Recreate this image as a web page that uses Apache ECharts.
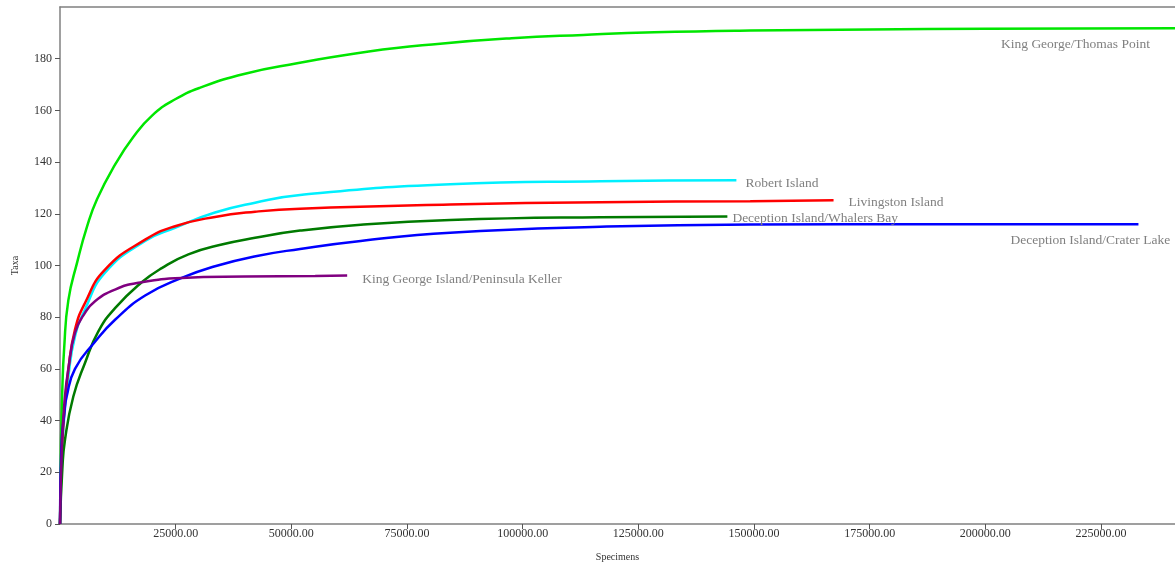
<!DOCTYPE html>
<html>
<head>
<meta charset="utf-8">
<script src="https://cdn.jsdelivr.net/npm/echarts@6/dist/echarts.min.js"></script>
<style>
  html, body { margin: 0; padding: 0; background: #fff; }
  #chart { width: 1175px; height: 567px; }
</style>
</head>
<body>
<div id="chart"></div>
<script>
// Rarefaction curves: taxa observed vs. number of specimens, per site.
const siteNames = [
  'King George/Thomas Point',
  'Robert Island',
  'Livingston Island',
  'Deception Island/Whalers Bay',
  'Deception Island/Crater Lake',
  'King George Island/Peninsula Keller'
];

const thomasPoint = [
  [0, 0], [200, 30], [500, 52], [900, 68], [1800, 86.5], [3750, 101.5], [5840, 115],
  [8000, 125.6], [11900, 139], [15800, 149.6], [19900, 158], [24900, 164.3],
  [30300, 168.8], [40000, 174.2], [51250, 178.2], [66740, 182.8], [82180, 185.8],
  [97620, 187.9], [113080, 189.2], [128460, 190.2], [149200, 190.9], [175000, 191.3],
  [200000, 191.6], [241000, 191.8]
];

const robertIsland = [
  [0, 0], [400, 27], [1000, 43], [1800, 57], [3240, 72.6], [5400, 83], [9730, 97.2],
  [18400, 109.5], [24870, 114.6], [33500, 120.5], [42170, 124.3], [51900, 127.3],
  [84340, 131.4], [116800, 132.6], [146200, 133]
];

const livingstonIsland = [
  [0, 0], [400, 28], [1000, 45], [1800, 59.7], [3240, 75.2], [5400, 85.5], [9730, 98.4],
  [18400, 110], [24870, 115.2], [33500, 118.8], [42170, 120.8], [51900, 122],
  [84340, 123.6], [116800, 124.5], [149200, 124.9], [167200, 125.2]
];

const whalersBay = [
  [0, 0], [500, 21], [1080, 32.6], [2880, 49.3], [5400, 62.3], [8290, 74.5],
  [11900, 83.5], [17660, 93.5], [22000, 99], [27750, 104.3], [34960, 108.1],
  [42170, 110.7], [51900, 113.5], [65000, 115.8], [84340, 117.6], [116800, 118.7],
  [144250, 119]
];

const craterLake = [
  [0, 0], [300, 30], [940, 43], [1440, 49.3], [3240, 60], [7570, 70.5],
  [11900, 79], [18400, 88.4], [26300, 95.2], [33500, 99.7], [42000, 103.5],
  [51900, 106.4], [65000, 109.5], [84340, 112.7], [116800, 115], [149200, 115.9],
  [190000, 116], [233100, 116]
];

const peninsulaKeller = [
  [0, 0], [400, 30], [1000, 48], [1800, 60], [3240, 73.9], [5400, 81.7], [7570, 86.2],
  [11900, 90.7], [16940, 93.3], [26300, 95.2], [40000, 95.7], [55150, 95.9],
  [62070, 96.1]
];

const seriesData = [thomasPoint, robertIsland, livingstonIsland, whalersBay, craterLake, peninsulaKeller];
const seriesColors = ['#00e600', '#00f0ff', '#ff0000', '#007a00', '#0000ff', '#800080'];
const labelOffsets = [[-179, 16], [4, 3], [10, 2], [0, 2], [-133, 16], [10, 4]];

const xMax = 241000;
const serif = "'Liberation Serif', 'Times New Roman', serif";

const chart = echarts.init(document.getElementById('chart'), null, { renderer: 'canvas' });

chart.setOption({
  animation: false,
  backgroundColor: '#ffffff',
  grid: { left: 60, right: 0, top: 7, bottom: 43, containLabel: false, outerBoundsMode: 'none' },
  xAxis: [
    {
      type: 'value',
      min: 0,
      max: xMax,
      interval: 25000,
      name: 'Specimens',
      nameLocation: 'middle',
      nameGap: 28,
      nameTextStyle: { fontFamily: serif, fontSize: 10, color: '#333' },
      axisLine: { show: true, lineStyle: { color: '#808080', width: 1.5 } },
      axisTick: { show: true, length: 5, lineStyle: { color: '#555' } },
      axisLabel: {
        showMinLabel: false,
        showMaxLabel: false,
        margin: 4,
        fontFamily: serif,
        fontSize: 12,
        color: '#333',
        formatter: v => v.toFixed(2)
      },
      splitLine: { show: false }
    },
    {
      type: 'value',
      position: 'top',
      min: 0,
      max: xMax,
      axisLine: { show: true, lineStyle: { color: '#808080', width: 1.5 } },
      axisTick: { show: false },
      axisLabel: { show: false },
      splitLine: { show: false }
    }
  ],
  yAxis: {
    type: 'value',
    min: 0,
    max: 200,
    interval: 20,
    name: 'Taxa',
    nameLocation: 'middle',
    nameGap: 40,
    nameRotate: 90,
    nameTextStyle: { fontFamily: serif, fontSize: 10, color: '#333' },
    axisLine: { show: true, lineStyle: { color: '#808080', width: 1.5 } },
    axisTick: { show: true, length: 5, lineStyle: { color: '#555' } },
    axisLabel: {
      showMaxLabel: false,
      margin: 8,
      fontFamily: serif,
      fontSize: 12,
      color: '#333'
    },
    splitLine: { show: false }
  },
  series: siteNames.map((name, i) => ({
    name: name,
    type: 'line',
    xAxisIndex: 0,
    data: seriesData[i],
    showSymbol: false,
    smooth: 0.5,
    lineStyle: { color: seriesColors[i], width: 2.5 },
    itemStyle: { color: seriesColors[i] },
    endLabel: {
      show: true,
      formatter: name,
      distance: 5,
      offset: labelOffsets[i],
      fontFamily: serif,
      fontSize: 13.5,
      color: '#808080'
    }
  }))
});
</script>
</body>
</html>
